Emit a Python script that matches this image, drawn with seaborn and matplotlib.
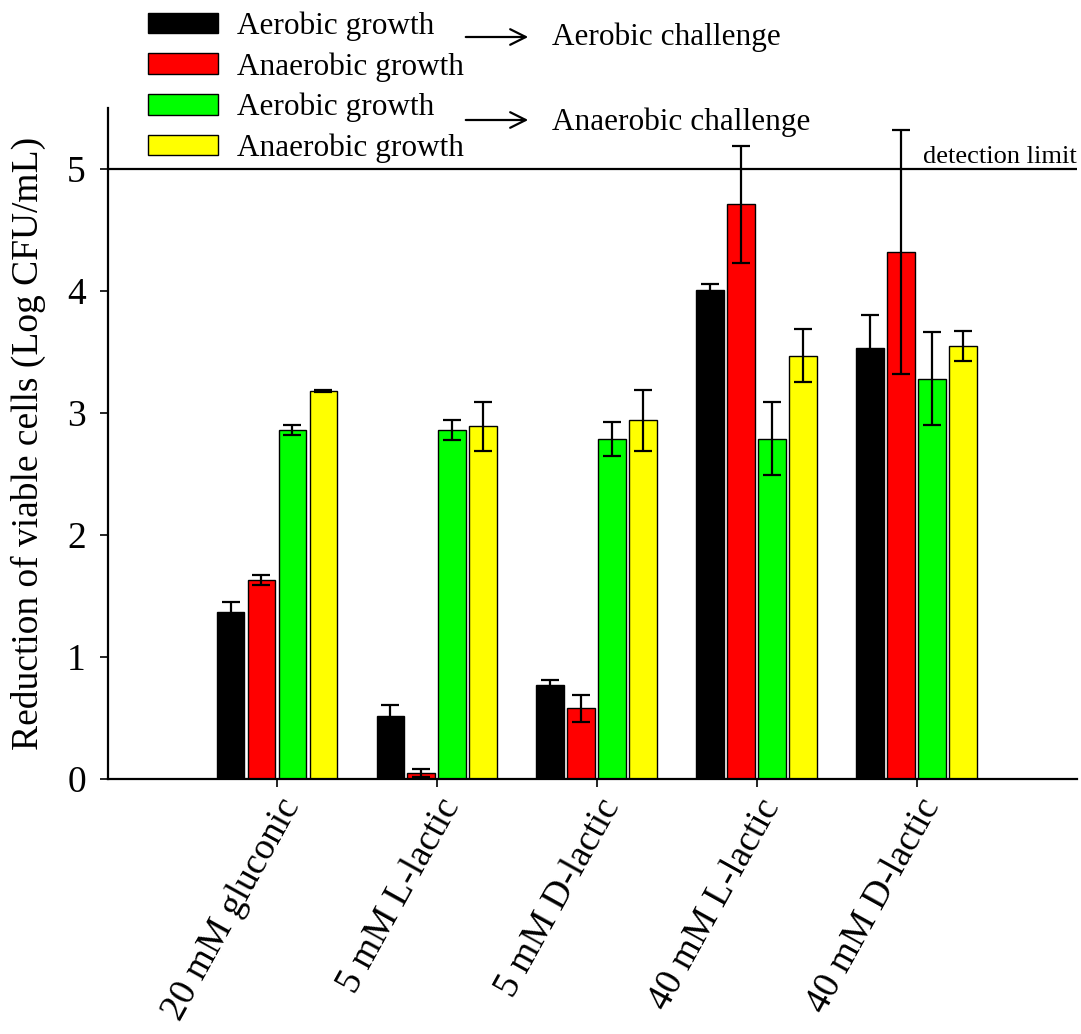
import matplotlib
matplotlib.use("Agg")
import matplotlib.pyplot as plt
import matplotlib.patches as mpatches
import seaborn as sns
import pandas as pd
import numpy as np
from matplotlib.transforms import blended_transform_factory

sns.set_theme(style="ticks")
plt.rcParams['font.family'] = ['Liberation Serif', 'DejaVu Serif']
plt.rcParams['text.color'] = 'black'
plt.rcParams['axes.labelcolor'] = 'black'
plt.rcParams['xtick.color'] = 'black'
plt.rcParams['ytick.color'] = 'black'

conditions = ["20 mM gluconic", "5 mM L-lactic", "5 mM D-lactic", "40 mM L-lactic", "40 mM D-lactic"]
groups = ["Aerobic growth (aerobic challenge)", "Anaerobic growth (aerobic challenge)",
          "Aerobic growth (anaerobic challenge)", "Anaerobic growth (anaerobic challenge)"]
legend_labels = ["Aerobic growth", "Anaerobic growth", "Aerobic growth", "Anaerobic growth"]
colors = ["#000000", "#FF0000", "#00FF00", "#FFFF00"]

aer_aer = [1.37, 0.52, 0.77, 4.01, 3.53]
ana_aer = [1.63, 0.05, 0.58, 4.71, 4.32]
aer_ana = [2.86, 2.86, 2.79, 2.79, 3.28]
ana_ana = [3.18, 2.89, 2.94, 3.47, 3.55]

err_aer_aer = [0.08, 0.09, 0.04, 0.05, 0.27]
err_ana_aer = [0.04, 0.03, 0.11, 0.48, 1.00]
err_aer_ana = [0.04, 0.08, 0.14, 0.30, 0.38]
err_ana_ana = [0.01, 0.20, 0.25, 0.22, 0.12]

values = [aer_aer, ana_aer, aer_ana, ana_ana]
errors = [err_aer_aer, err_ana_aer, err_aer_ana, err_ana_ana]

rows = []
for g, vals, errs in zip(groups, values, errors):
    for c, v, e in zip(conditions, vals, errs):
        rows.append({"condition": c, "group": g, "value": v, "err": e})
df = pd.DataFrame(rows)

fig = plt.figure(figsize=(10.81, 10.34), dpi=100)
ax = fig.add_axes([0.1, 0.2466, 0.896, 0.649])

sns.barplot(data=df, x="condition", y="value", hue="group", order=conditions,
            hue_order=groups, palette=colors, saturation=1, edgecolor="black", linewidth=1,
            width=0.775, gap=0.1, errorbar=None, legend=False, ax=ax)

bar_containers = list(ax.containers)
handles = [cont.patches[0] for cont in bar_containers]

for cont, errs in zip(bar_containers, errors):
    xs = [p.get_x() + p.get_width() / 2 for p in cont.patches]
    hs = [p.get_height() for p in cont.patches]
    ax.errorbar(xs, hs, yerr=errs, fmt="none", ecolor="black",
                elinewidth=1.6, capsize=6.5, capthick=1.6, zorder=5)

ax.axhline(5, color="black", lw=1.6, zorder=6)
trans = blended_transform_factory(ax.transAxes, ax.transData)
ax.text(1.0, 5.005, "detection limit", transform=trans, ha="right", va="bottom", fontsize=19)

ax.set_xlim(-1.056, 5.0)
ax.set_ylim(0, 5.5)
ax.set_yticks([0, 1, 2, 3, 4, 5])
ax.set_xlabel("")
ax.set_ylabel("Reduction of viable cells (Log CFU/mL)", fontsize=27, labelpad=15)
ax.tick_params(axis="y", labelsize=27, direction="out", length=6, width=1.2, pad=10)
ax.tick_params(axis="x", labelsize=27, direction="out", length=6, width=1.2, pad=4)
plt.setp(ax.get_xticklabels(), rotation=61, ha="right", rotation_mode="anchor")
sns.despine(ax=ax)
for s in ["left", "bottom"]:
    ax.spines[s].set_linewidth(1.6)
    ax.spines[s].set_color("black")

fig.legend(handles, legend_labels, loc="upper left", bbox_to_anchor=(0.137, 0.989),
           frameon=False, fontsize=22.5, handlelength=2.25, handleheight=0.63,
           handletextpad=0.6, labelspacing=0.36, borderpad=0, borderaxespad=0)

for ya, yt, txt in [(37, 37, "Aerobic challenge"), (120, 122, "Anaerobic challenge")]:
    fy = 1 - ya / 1034
    fig.add_artist(mpatches.FancyArrowPatch(
        (463 / 1081, fy), (531 / 1081, fy), transform=fig.transFigure,
        arrowstyle="->", mutation_scale=28, lw=1.6, color="black"))
    fig.text(552 / 1081, 1 - yt / 1034, txt, fontsize=22.5, ha="left", va="center")

fig.savefig("out.png", dpi=100)
